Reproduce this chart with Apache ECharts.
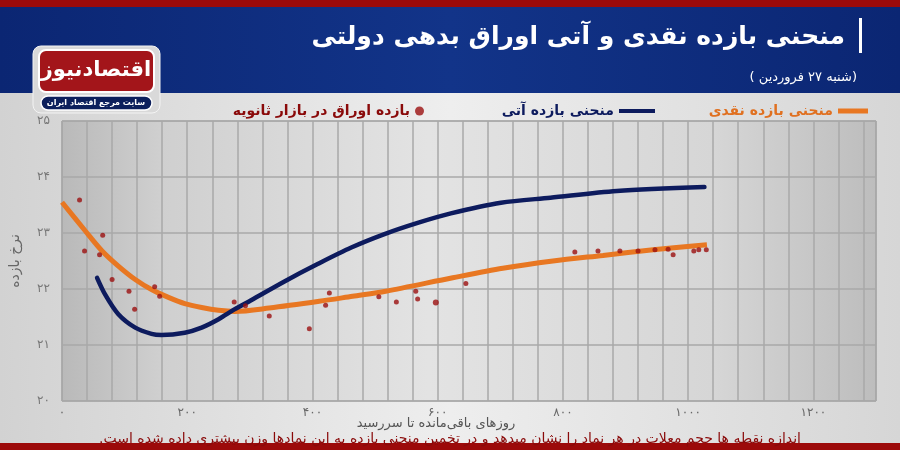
<!DOCTYPE html>
<html><head><meta charset="utf-8">
<script src="https://cdn.jsdelivr.net/npm/echarts@6/dist/echarts.min.js"></script>
<style>html,body{margin:0;padding:0;background:#e4e4e4;}#c{width:900px;height:450px;}</style>
</head><body><div id="c"></div>
<script>
// ---- data ----
const spotDays  = [0, 37, 64, 90, 117, 143, 170, 196, 223, 250, 276, 331, 411, 464, 517, 624, 704, 784, 864, 944, 1030];
const spotRates = [23.55, 23.04, 22.68, 22.41, 22.17, 21.99, 21.85, 21.74, 21.67, 21.62, 21.6, 21.66, 21.78, 21.87, 21.96, 22.2, 22.37, 22.5, 22.6, 22.7, 22.79];
const futDays   = [56, 69, 90, 117, 143, 159, 196, 223, 250, 276, 302, 356, 409, 462, 515, 568, 621, 701, 780, 886, 1026];
const futRates  = [22.2, 21.9, 21.55, 21.31, 21.2, 21.18, 21.22, 21.31, 21.46, 21.64, 21.8, 22.14, 22.45, 22.74, 22.98, 23.18, 23.35, 23.54, 23.63, 23.75, 23.82];
const bondDays  = [28, 65, 36, 60, 80, 107, 116, 148, 156, 275, 293, 331, 395, 421, 427, 506, 534, 565, 568, 597, 645, 819, 856, 891, 920, 947, 968, 976, 1009, 1017, 1029];
const bondRates = [23.59, 22.96, 22.68, 22.61, 22.17, 21.96, 21.64, 22.04, 21.87, 21.77, 21.7, 21.52, 21.29, 21.71, 21.93, 21.86, 21.77, 21.96, 21.82, 21.76, 22.1, 22.66, 22.68, 22.68, 22.68, 22.7, 22.71, 22.61, 22.68, 22.7, 22.7];
const bondSizes = [5, 5, 5, 5, 5, 5, 5, 5, 5, 5, 5, 5, 5, 5, 5, 5, 5, 5, 5, 6, 5, 5, 5, 5, 5, 5, 5, 5, 5, 5, 5];
const xMin = 0, xMax = 1300, xGridStep = 40, xLabelStep = 200;
const yMin = 20, yMax = 25, yStep = 1;

const RLM = '\u200F';
const names = {
  spot: 'منحنی بازده نقدی',
  fut: 'منحنی بازده آتی',
  bond: 'بازده اوراق در بازار ثانویه'
};
const titleText = 'منحنی بازده نقدی و آتی اوراق بدهی دولتی';
const subText = RLM + '(شنبه ۲۷ فروردین )' + RLM;
const footText = RLM + 'اندازه نقطه ها حجم معلات در هر نماد را نشان میدهد و در تخمین منحنی بازده به این نمادها وزن بیشتری داده شده است.' + RLM;
const xName = 'روزهای باقی‌مانده تا سررسید';
const yName = 'نرخ بازده';

const FONT = 'DejaVu Sans';
const fa = s => String(s).replace(/\d/g, d => '۰۱۲۳۴۵۶۷۸۹'[d]);
const zip = (a, b) => a.map((v, i) => [v, b[i]]);

const chart = echarts.init(document.getElementById('c'));
const LG = echarts.graphic.LinearGradient;

chart.setOption({
  animation: false,
  textStyle: { fontFamily: FONT },
  title: [
    { text: titleText, right: 50, top: 20, z: 20, textStyle: { color: '#fff', fontSize: 25, fontWeight: 'bold', fontFamily: FONT } },
    { text: subText, right: 38, top: 66, z: 20, textStyle: { color: '#fff', fontSize: 13, fontWeight: 'normal', fontFamily: FONT } },
    { text: footText, left: 'center', top: 427, z: 20, textStyle: { color: '#8a0a0a', fontSize: 14, fontWeight: 'normal', fontFamily: FONT } }
  ],
  legend: [
    { data: [{ name: names.spot, icon: 'rect', textStyle: { color: '#e07020' } }], right: 27, top: 99, align: 'right', itemWidth: 30, itemHeight: 5, itemGap: 10,
      textStyle: { fontSize: 14, fontWeight: 'bold', fontFamily: FONT }, selectedMode: false },
    { data: [{ name: names.fut, icon: 'rect', textStyle: { color: '#0d1b5e' } }], right: 240, top: 99, align: 'right', itemWidth: 36, itemHeight: 4, itemGap: 9,
      textStyle: { fontSize: 14, fontWeight: 'bold', fontFamily: FONT }, selectedMode: false },
    { data: [{ name: names.bond, icon: 'circle', textStyle: { color: '#8a0a0a' } }], right: 471, top: 99, align: 'right', itemWidth: 9, itemHeight: 9, itemGap: 8,
      textStyle: { fontSize: 14, fontWeight: 'bold', fontFamily: FONT }, selectedMode: false }
  ],
  grid: {
    left: 60, right: 24, top: 121, bottom: 49, show: true,
    backgroundColor: new LG(0, 0, 1, 0, [
      { offset: 0, color: '#b9b9b9' }, { offset: 0.12, color: '#cfcfcf' },
      { offset: 0.45, color: '#e3e3e3' }, { offset: 0.8, color: '#d6d6d6' }, { offset: 1, color: '#bdbdbd' }
    ]),
    borderColor: '#9a9a9a', borderWidth: 1
  },
  xAxis: {
    type: 'value', min: xMin, max: xMax, interval: xGridStep,
    name: xName, nameLocation: 'middle', nameGap: 16, nameMoveOverlap: false,
    nameTextStyle: { color: '#555', fontSize: 13, fontFamily: FONT, padding: [0, 66, 0, 0], verticalAlign: 'top' },
    axisLine: { show: false }, axisTick: { show: false },
    axisLabel: { color: '#666', fontSize: 12, margin: 6, fontFamily: FONT,
      formatter: v => (v % xLabelStep === 0 && v < xMax) ? fa(v) : '' },
    splitLine: { show: true, lineStyle: { color: '#a9a9a9', width: 1.5 } }
  },
  yAxis: {
    type: 'value', min: yMin, max: yMax, interval: yStep,
    name: yName, nameLocation: 'middle', nameGap: 40, nameRotate: 90,
    nameTextStyle: { color: '#666', fontSize: 14, fontFamily: FONT },
    axisLine: { show: false }, axisTick: { show: false },
    axisLabel: { color: '#777', fontSize: 12, margin: 12, fontFamily: FONT, formatter: v => fa(v) },
    splitLine: { show: true, lineStyle: { color: '#a9a9a9', width: 1.5 } }
  },
  series: [
    { name: names.spot, type: 'line', data: zip(spotDays, spotRates), smooth: 0.3, showSymbol: false,
      lineStyle: { color: '#e87722', width: 5 }, itemStyle: { color: '#e87722' }, z: 3 },
    { name: names.fut, type: 'line', data: zip(futDays, futRates), smooth: 0.3, showSymbol: false,
      lineStyle: { color: '#0d1b5e', width: 4.5, cap: 'round' }, itemStyle: { color: '#0d1b5e' }, z: 4 },
    { name: names.bond, type: 'scatter', data: bondDays.map((d, i) => [d, bondRates[i], bondSizes[i]]),
      symbolSize: v => v[2], itemStyle: { color: '#9b1010' }, z: 5 }
  ],
  graphic: [
    { type: 'rect', z: -10, shape: { x: 0, y: 0, width: 900, height: 450 },
      style: { fill: new LG(0, 0, 1, 0, [{ offset: 0, color: '#d2d2d2' }, { offset: 0.5, color: '#eeeeee' }, { offset: 1, color: '#d6d6d6' }]) } },
    { type: 'rect', z: 1, shape: { x: 0, y: 0, width: 900, height: 93 },
      style: { fill: new LG(0, 0, 1, 0, [{ offset: 0, color: '#0b2673' }, { offset: 0.5, color: '#123489' }, { offset: 1, color: '#0b2673' }]) } },
    { type: 'rect', z: 2, shape: { x: 0, y: 0, width: 900, height: 7 }, style: { fill: '#9c0a0a' } },
    { type: 'rect', z: 2, shape: { x: 0, y: 443, width: 900, height: 7 }, style: { fill: '#9c0a0a' } },
    { type: 'rect', z: 2, shape: { x: 859, y: 18, width: 3, height: 35 }, style: { fill: '#ffffff' } },
    // logo
    { type: 'rect', z: 2, shape: { x: 33, y: 46, width: 127, height: 67, r: 8 }, style: { fill: '#d9d9d9', stroke: '#f4f4f4', lineWidth: 1 } },
    { type: 'rect', z: 3, shape: { x: 39, y: 50, width: 115, height: 42, r: 7 }, style: { fill: '#a3151a', stroke: '#ffffff', lineWidth: 2 } },
    { type: 'text', z: 4, x: 96, y: 71, style: { text: 'اقتصادنیوز', fill: '#ffffff', font: 'bold 21px "DejaVu Sans"', textAlign: 'center', textVerticalAlign: 'middle' } },
    { type: 'rect', z: 3, shape: { x: 41, y: 96, width: 111, height: 14, r: 7 }, style: { fill: '#0c1f5c', stroke: '#ffffff', lineWidth: 1.5 } },
    { type: 'text', z: 4, x: 96, y: 103, style: { text: 'سایت مرجع اقتصاد ایران', fill: '#ffffff', font: 'bold 8px "DejaVu Sans"', textAlign: 'center', textVerticalAlign: 'middle' } }
  ]
});
</script></body></html>
